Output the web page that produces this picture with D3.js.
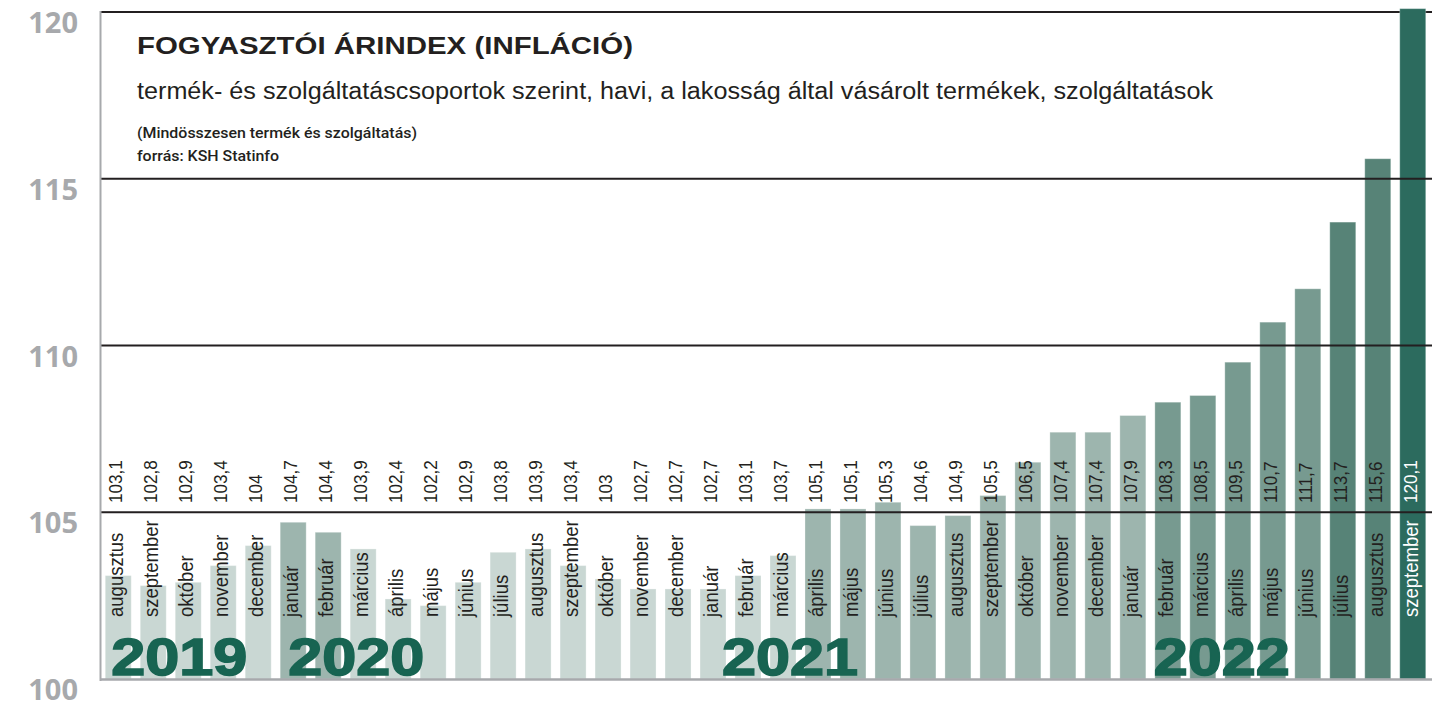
<!DOCTYPE html>
<html>
<head>
<meta charset="utf-8">
<script src="https://cdn.jsdelivr.net/npm/d3@7"></script>
<style>
  body { margin: 0; background: #fff; }
  svg { display: block; }
</style>
</head>
<body>
<div id="chart"></div>
<script>
// chart size
const width = 1439;
const height = 707;

// data: monthly consumer price index (same month previous year = 100)
const months = [
  "augusztus", "szeptember", "október", "november", "december",
  "január", "február", "március", "április", "május", "június", "július", "augusztus", "szeptember", "október", "november", "december",
  "január", "február", "március", "április", "május", "június", "július", "augusztus", "szeptember", "október", "november", "december",
  "január", "február", "március", "április", "május", "június", "július", "augusztus", "szeptember"
];
const values = [
  103.1, 102.8, 102.9, 103.4, 104,
  104.7, 104.4, 103.9, 102.4, 102.2, 102.9, 103.8, 103.9, 103.4, 103, 102.7, 102.7,
  102.7, 103.1, 103.7, 105.1, 105.1, 105.3, 104.6, 104.9, 105.5, 106.5, 107.4, 107.4,
  107.9, 108.3, 108.5, 109.5, 110.7, 111.7, 113.7, 115.6, 120.1
];
const years = ["2019", "2020", "2021", "2022"];
const yearStartIndex = [0, 5, 17, 29];
const yTicks = [100, 105, 110, 115, 120];

const data = values.map((v, i) => ({ i: i, month: months[i], value: v }));

const svg = d3.select("#chart")
  .append("svg")
  .attr("width", width)
  .attr("height", height);

svg.append("rect").attr("width", width).attr("height", height).attr("fill", "#fff");

// scales
const x = d3.scaleBand()
  .domain(data.map(d => d.i))
  .range([100, 1431])
  .paddingInner(0.257)
  .paddingOuter(0.15);

const y = d3.scaleLinear()
  .domain([100, 120])
  .range([679, 12]);

// bar colour gets darker as inflation grows
const color = d3.scaleThreshold()
  .domain([104.2, 108, 112, 117])
  .range(["#c9d7d3", "#9db5ae", "#779a90", "#578377", "#2c6b5e"]);

// top gridline sits behind the tallest bar
svg.append("line")
  .attr("x1", 100).attr("x2", 1432)
  .attr("y1", y(120)).attr("y2", y(120))
  .attr("stroke", "#231f20")
  .attr("stroke-width", 2);

// bars
svg.append("g")
  .selectAll("rect")
  .data(data)
  .join("rect")
  .attr("x", d => x(d.i))
  .attr("width", x.bandwidth())
  .attr("y", d => y(d.value))
  .attr("height", d => y(100) - y(d.value))
  .attr("fill", d => color(d.value))
  .attr("stroke", "rgba(255,255,255,0.3)")
  .attr("stroke-width", 1);

// inner gridlines drawn over the bars
svg.append("g")
  .selectAll("line")
  .data(yTicks.filter(t => t > 100 && t < 120))
  .join("line")
  .attr("x1", 100).attr("x2", 1432)
  .attr("y1", d => y(d)).attr("y2", d => y(d))
  .attr("stroke", "#231f20")
  .attr("stroke-width", 1.8);

// left axis + base line
svg.append("line")
  .attr("x1", 100.5).attr("x2", 100.5)
  .attr("y1", y(120) - 1).attr("y2", y(100) + 2)
  .attr("stroke", "#a7a9ac")
  .attr("stroke-width", 2);
svg.append("line")
  .attr("x1", 100).attr("x2", 1432)
  .attr("y1", y(100) + 0.5).attr("y2", y(100) + 0.5)
  .attr("stroke", "#a7a9ac")
  .attr("stroke-width", 2.5);

// y tick labels (top of the digits aligned with the gridline)
svg.append("g")
  .selectAll("text")
  .data(yTicks)
  .join("text")
  .attr("x", 78)
  .attr("y", d => y(d) + 21)
  .attr("text-anchor", "end")
  .style("font-family", "'Open Sans', 'Liberation Sans', sans-serif")
  .style("font-weight", 700)
  .style("font-size", "29px")
  .style("fill", "#a7a9ac")
  .text(d => d);

// value labels, rotated, just above the 105 line (squeezed a bit = condensed look)
svg.append("g")
  .selectAll("text")
  .data(data)
  .join("text")
  .attr("transform", d => `translate(${x(d.i) + x.bandwidth() / 2 + 4},503) rotate(-90) scale(0.9,1)`)
  .style("font-family", "'Liberation Sans', Arial, sans-serif")
  .style("font-size", "19px")
  .style("fill", d => d.value > 117 ? "#fff" : "#231f20")
  .text(d => String(d.value).replace(".", ","));

// month labels, rotated, below the 105 line
svg.append("g")
  .selectAll("text")
  .data(data)
  .join("text")
  .attr("transform", d => `translate(${x(d.i) + x.bandwidth() / 2 + 5},617) rotate(-90) scale(0.95,1)`)
  .style("font-family", "'Liberation Sans', Arial, sans-serif")
  .style("font-size", "19.5px")
  .style("fill", d => d.value > 117 ? "#fff" : "#231f20")
  .text(d => d.month);

// big year labels
const yearNudge = [6, 8, 22, 34];
svg.append("g")
  .selectAll("text")
  .data(years)
  .join("text")
  .attr("x", (d, k) => x(yearStartIndex[k]) + yearNudge[k])
  .attr("y", 675)
  .attr("textLength", 136)
  .attr("lengthAdjust", "spacingAndGlyphs")
  .style("font-family", "'Liberation Sans', Arial, sans-serif")
  .style("font-weight", 700)
  .style("font-size", "52px")
  .style("fill", "#186452")
  .style("stroke", "#186452")
  .style("stroke-width", 1.6)
  .text(d => d);

// title block
const title = svg.append("g").style("fill", "#231f20");
title.append("text")
  .attr("x", 137).attr("y", 54)
  .attr("textLength", 496).attr("lengthAdjust", "spacingAndGlyphs")
  .style("font-family", "'Liberation Sans', Arial, sans-serif")
  .style("font-weight", 700)
  .style("font-size", "23.5px")
  .text("FOGYASZTÓI ÁRINDEX (INFLÁCIÓ)");
title.append("text")
  .attr("x", 137).attr("y", 98.5)
  .attr("textLength", 1076).attr("lengthAdjust", "spacingAndGlyphs")
  .style("font-family", "'Liberation Sans', Arial, sans-serif")
  .style("font-size", "23px")
  .text("termék- és szolgáltatáscsoportok szerint, havi, a lakosság által vásárolt termékek, szolgáltatások");
title.append("text")
  .attr("x", 137).attr("y", 138)
  .attr("textLength", 280).attr("lengthAdjust", "spacingAndGlyphs")
  .style("font-family", "Roboto, 'Liberation Sans', sans-serif")
  .style("font-weight", 500)
  .style("font-size", "15px")
  .text("(Mindösszesen termék és szolgáltatás)");
title.append("text")
  .attr("x", 137).attr("y", 160.5)
  .attr("textLength", 142).attr("lengthAdjust", "spacingAndGlyphs")
  .style("font-family", "Roboto, 'Liberation Sans', sans-serif")
  .style("font-weight", 500)
  .style("font-size", "15px")
  .text("forrás: KSH Statinfo");
</script>
</body>
</html>
